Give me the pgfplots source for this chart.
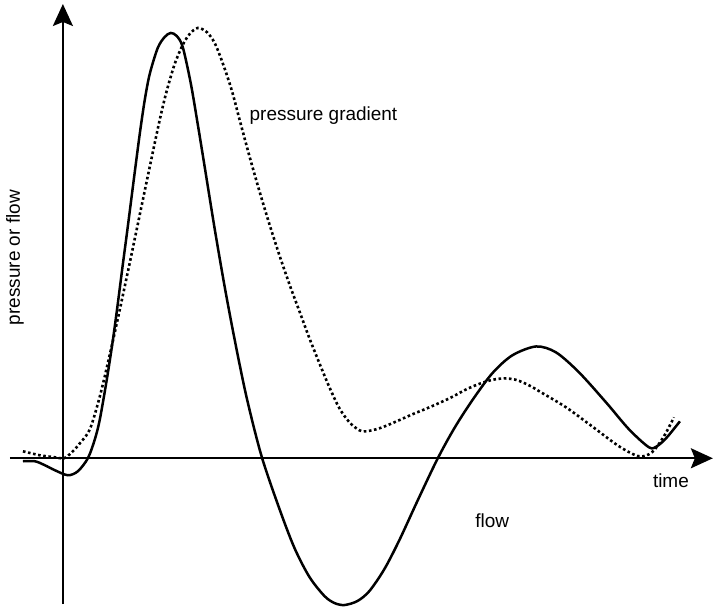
\documentclass[border=0pt]{standalone}
\usepackage{fontspec}
\setmainfont{Liberation Sans}
\usepackage{pgfplots}
\pgfplotsset{compat=1.18}
\usetikzlibrary{arrows.meta}

% curves traced in picture units (x to the right, y downwards)
\pgfplotstableread{
px py
23 462
35 462
45 466
55 471
68 476
78 472
88 459
95 440
100 420
107 380
113 341
118 304
123 265
128 227
134 180
140 134
145 100
150 74
158 48
165 37
171 33
177 36
183 47
191 83
198 124
205 167
215 229
225 287
235 340
247 398
262 457
280 510
295 549
310 578
325 597
335 604
345 606
358 602
370 592
385 570
400 541
418 502
438 460
455 429
473 401
493 374
513 356
537 347
557 353
580 373
607 403
630 430
650 448
658 447
668 438
681 422
}\flow

\pgfplotstableread{
px py
23 452
40 456
55 458
64 459
72 453
80 444
90 430
100 397
110 355
120 310
130 263
140 215
150 167
160 120
167 91
175 64
183 45
190 34
198 28
207 32
215 43
223 63
232 90
240 120
250 157
260 192
270 225
280 256
290 285
300 312
310 339
320 364
330 388
340 409
350 423
360 431
367 432
380 429
395 423
413 415
430 408
450 399
467 390
480 384.5
493 380.5
505 379
517 380.5
530 386
542 393
567 408
593 427
620 447
640 457
653 453
665 437
675 418
}\pressure

\begin{document}
\begin{tikzpicture}
\begin{axis}[
  scale only axis,
  width=714pt, height=608pt,
  xmin=0, xmax=714, ymin=0, ymax=608,
  y dir=reverse,
  hide axis,
  clip=false,
]
\path (axis cs:0,0) rectangle (axis cs:714,608);
% axes
\draw[line width=2.3pt, -{Stealth[length=22pt, width=20pt, inset=4pt]}]
  (axis cs:10,459) -- (axis cs:714,459);
\draw[line width=2.3pt, -{Stealth[length=22pt, width=20pt, inset=4pt]}]
  (axis cs:63,605) -- (axis cs:63,4);

\addplot[black, line width=2.5pt, smooth] table[x=px, y=py] {\flow};
\addplot[black, line width=2.6pt, smooth, dash pattern=on 2.6pt off 2.6pt] table[x=px, y=py] {\pressure};

\node[font=\fontsize{19}{21}\selectfont] at (axis cs:324,116) {pressure gradient};
\node[font=\fontsize{19}{21}\selectfont] at (axis cs:493,522) {flow};
\node[font=\fontsize{19}{21}\selectfont] at (axis cs:672,481) {time};
\node[font=\fontsize{19}{21}\selectfont, rotate=90] at (axis cs:15,258) {pressure or flow};
\end{axis}
\end{tikzpicture}
\end{document}
